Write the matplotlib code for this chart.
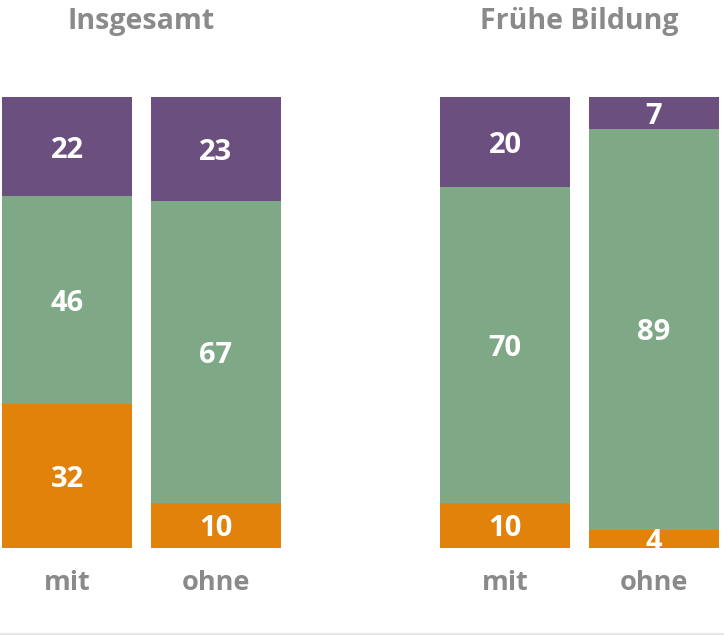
import matplotlib
matplotlib.use('Agg')
import matplotlib.pyplot as plt
from matplotlib.lines import Line2D

plt.rcParams['font.family'] = ['Open Sans', 'DejaVu Sans']

panels = ['Insgesamt', 'Frühe Bildung']
categories = ['mit', 'ohne']
# bottom (orange), middle (green), top (purple)
orange_vals = [[32, 10], [10, 4]]
green_vals = [[46, 67], [70, 89]]
purple_vals = [[22, 23], [20, 7]]

cOrange = '#e1820b'
cGreen = '#7fa886'
cPurple = '#6b4f7e'
cGray = '#8a8a8a'

W, H = 724, 635
fig = plt.figure(figsize=(W / 100., H / 100.), dpi=100)

barWidth = 0.875
axLefts = [2, 440]
axWidth = 279
bottomPx, topPx = 548, 97

for p in range(len(panels)):
    ax = fig.add_axes([axLefts[p] / W, (H - bottomPx) / H, axWidth / W, (bottomPx - topPx) / H])
    x = list(range(len(categories)))
    o = orange_vals[p]
    g = green_vals[p]
    u = purple_vals[p]
    ax.bar(x, o, width=barWidth, color=cOrange)
    ax.bar(x, g, width=barWidth, bottom=o, color=cGreen)
    gb = [o[i] + g[i] for i in x]
    ax.bar(x, u, width=barWidth, bottom=gb, color=cPurple)
    for i in x:
        for val, base in [(o[i], 0), (g[i], o[i]), (u[i], gb[i])]:
            ax.annotate(str(val), xy=(i, base + val / 2.), xytext=(0, -2.5),
                        textcoords='offset points', ha='center', va='center',
                        color='white', fontsize=21, fontweight='bold')
        ax.annotate(categories[i], xy=(i, -7), xytext=(0, -2.5),
                    textcoords='offset points', ha='center', va='center',
                    color=cGray, fontsize=19.5, fontweight='bold',
                    annotation_clip=False)
    ax.annotate(panels[p], xy=(0.5, 100 + 17.4), xytext=(0, -2.5),
                textcoords='offset points', ha='center', va='center',
                color=cGray, fontsize=20.5, fontweight='bold',
                annotation_clip=False)
    ax.set_xlim(-barWidth / 2., 1 + barWidth / 2.)
    ax.set_ylim(0, 100)
    ax.axis('off')

fig.add_artist(Line2D([0, 1], [1 - 634. / H, 1 - 634. / H], color='#e6e6e6', lw=1.5))

fig.savefig('out.png', dpi=100, facecolor='white')
